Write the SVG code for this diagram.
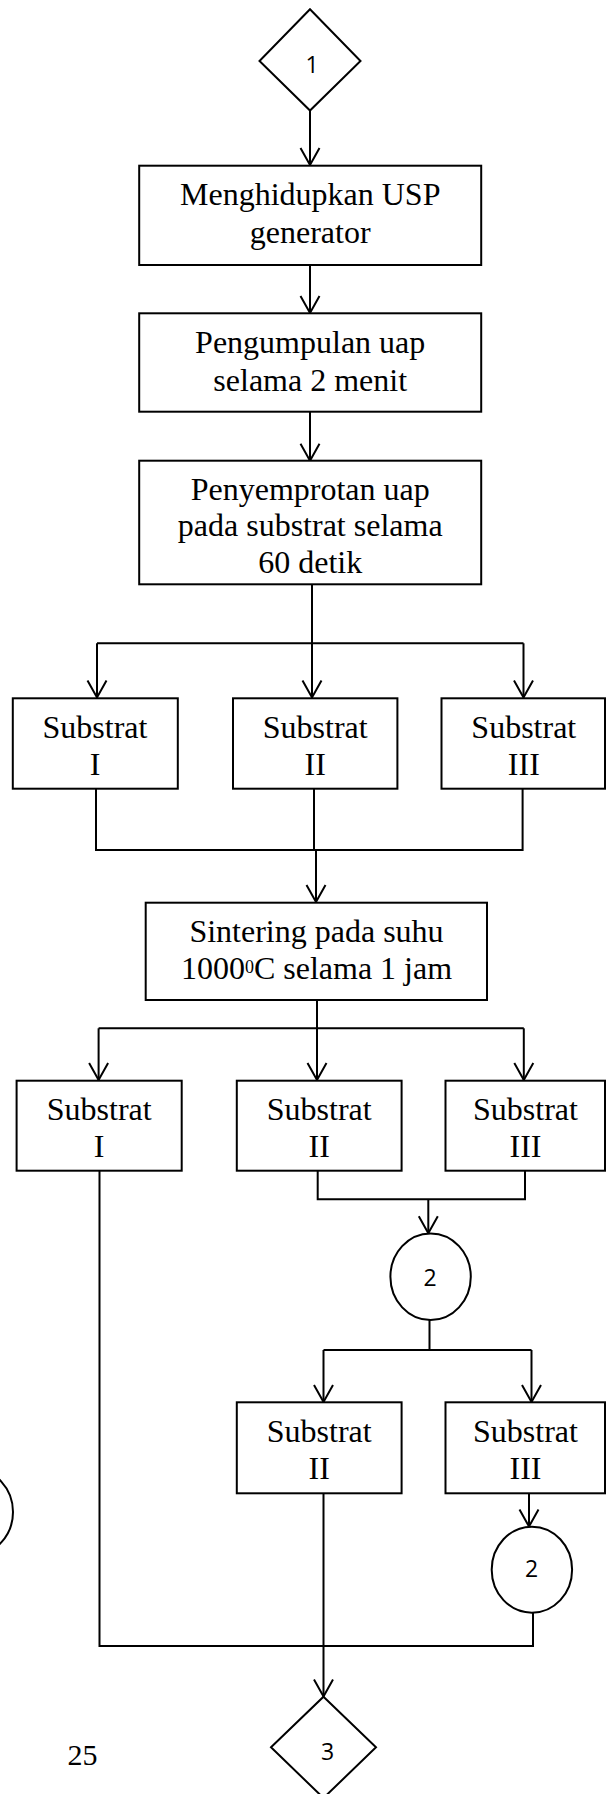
<svg xmlns="http://www.w3.org/2000/svg" width="606" height="1794" viewBox="0 0 606 1794">
<style>
.box{fill:#fff;stroke:#000;stroke-width:2}
.shape{fill:#fff;stroke:#000;stroke-width:2}
.c{fill:none;stroke:#000;stroke-width:2}
.t{font-family:"Liberation Serif","Times New Roman",serif;font-size:32px;fill:#000;text-anchor:middle}
.n{font-family:"Open Sans","Noto Sans",sans-serif;font-size:23px;fill:#000;text-anchor:middle}
.pg{font-family:"Liberation Serif","Times New Roman",serif;font-size:30px;fill:#000}
</style>
<defs>
<marker id="ah" markerUnits="userSpaceOnUse" viewBox="-20 -12 22 24" markerWidth="22" markerHeight="24" refX="0" refY="0" orient="auto" overflow="visible">
<path d="M-17,-9.5 L0,0 L-17,9.5" fill="none" stroke="#000" stroke-width="2"/>
</marker>
</defs>
<rect width="606" height="1794" fill="#fff"/>
<g id="connectors">
<path class="c" d="M310,111 V165" marker-end="url(#ah)"/>
<path class="c" d="M310,265 V313" marker-end="url(#ah)"/>
<path class="c" d="M310,411.7 V460.7" marker-end="url(#ah)"/>
<path class="c" d="M312,584.3 V643.3 M97,643.3 H523.5"/>
<path class="c" d="M97,643.3 V697.5" marker-end="url(#ah)"/>
<path class="c" d="M312,643.3 V697.5" marker-end="url(#ah)"/>
<path class="c" d="M523.5,643.3 V697.5" marker-end="url(#ah)"/>
<path class="c" d="M96,788.7 V850 H522.6 V788.7 M314,788.7 V850"/>
<path class="c" d="M316,850 V902" marker-end="url(#ah)"/>
<path class="c" d="M317,1000 V1028.3 M98.6,1028.3 H523.8"/>
<path class="c" d="M98.6,1028.3 V1080" marker-end="url(#ah)"/>
<path class="c" d="M317,1028.3 V1080" marker-end="url(#ah)"/>
<path class="c" d="M523.8,1028.3 V1080" marker-end="url(#ah)"/>
<path class="c" d="M317.7,1170 V1199.3 H525 V1170"/>
<path class="c" d="M428.3,1199.3 V1233.3" marker-end="url(#ah)"/>
<path class="c" d="M429.5,1320 V1350 M323.5,1350 H531.5"/>
<path class="c" d="M323.5,1350 V1402" marker-end="url(#ah)"/>
<path class="c" d="M531.5,1350 V1402" marker-end="url(#ah)"/>
<path class="c" d="M323.5,1493.3 V1696.5" marker-end="url(#ah)"/>
<path class="c" d="M529,1493.3 V1526.5" marker-end="url(#ah)"/>
<path class="c" d="M533,1612.7 V1646 H99.5 V1170"/>
</g>
<g id="start1">
<polygon class="shape" points="310,9.3 360.5,61 310,110.5 259.5,61"/>
<text class="n" x="312" y="73.3">1</text>
</g>
<g id="usp">
<rect class="box" x="139.2" y="165.7" width="342" height="99.3"/>
<text class="t" x="310.2" y="205">Menghidupkan USP</text>
<text class="t" x="310.2" y="242.7">generator</text>
</g>
<g id="pengumpulan">
<rect class="box" x="139.2" y="313.3" width="342" height="98.4"/>
<text class="t" x="310.2" y="353.3">Pengumpulan uap</text>
<text class="t" x="310.2" y="390.7">selama 2 menit</text>
</g>
<g id="penyemprotan">
<rect class="box" x="139.2" y="460.7" width="342" height="123.6"/>
<text class="t" x="310.2" y="500">Penyemprotan uap</text>
<text class="t" x="310.2" y="536">pada substrat selama</text>
<text class="t" x="310.2" y="572.7">60 detik</text>
</g>
<g id="s1a">
<rect class="box" x="12.8" y="698.3" width="165" height="90.4"/>
<text class="t" x="95" y="737.7">Substrat</text>
<text class="t" x="95" y="775">I</text>
</g>
<g id="s2a">
<rect class="box" x="233" y="698.3" width="164.4" height="90.4"/>
<text class="t" x="315.2" y="737.7">Substrat</text>
<text class="t" x="315.2" y="775">II</text>
</g>
<g id="s3a">
<rect class="box" x="441.5" y="698.3" width="163.5" height="90.4"/>
<text class="t" x="523.8" y="737.7">Substrat</text>
<text class="t" x="523.8" y="775">III</text>
</g>
<g id="sintering">
<rect class="box" x="145.7" y="902.7" width="341.3" height="97.3"/>
<text class="t" x="316.5" y="941.7">Sintering pada suhu</text>
<text class="t" x="316.5" y="979.3">1000<tspan font-size="18" dy="-6.5">0</tspan><tspan dy="6.5">C selama 1 jam</tspan></text>
</g>
<g id="s1b">
<rect class="box" x="16.6" y="1080.7" width="165.1" height="90"/>
<text class="t" x="99.2" y="1120">Substrat</text>
<text class="t" x="99.2" y="1156.7">I</text>
</g>
<g id="s2b">
<rect class="box" x="236.8" y="1080.7" width="164.8" height="90"/>
<text class="t" x="319.2" y="1120">Substrat</text>
<text class="t" x="319.2" y="1156.7">II</text>
</g>
<g id="s3b">
<rect class="box" x="445.5" y="1080.7" width="159.5" height="90"/>
<text class="t" x="525.5" y="1120">Substrat</text>
<text class="t" x="525.5" y="1156.7">III</text>
</g>
<g id="conn2a">
<ellipse class="shape" cx="430.6" cy="1276.7" rx="40.2" ry="43.3"/>
<text class="n" x="430" y="1286">2</text>
</g>
<g id="s2c">
<rect class="box" x="236.8" y="1402.3" width="164.8" height="91"/>
<text class="t" x="319.2" y="1442.3">Substrat</text>
<text class="t" x="319.2" y="1479.3">II</text>
</g>
<g id="s3c">
<rect class="box" x="445.5" y="1402.3" width="159.5" height="91"/>
<text class="t" x="525.5" y="1442.3">Substrat</text>
<text class="t" x="525.5" y="1479.3">III</text>
</g>
<g id="conn2b">
<ellipse class="shape" cx="531.9" cy="1569.7" rx="40.2" ry="43"/>
<text class="n" x="531.5" y="1577.3">2</text>
</g>
<g id="partial-circle">
<ellipse class="shape" cx="-27" cy="1512" rx="40" ry="43"/>
</g>
<g id="end3">
<polygon class="shape" points="323.5,1696.7 376,1747.3 323.5,1798 271,1747.3"/>
<text class="n" x="327.5" y="1760">3</text>
</g>
<g id="page">
<text class="pg" x="67.6" y="1765">25</text>
</g>
</svg>
